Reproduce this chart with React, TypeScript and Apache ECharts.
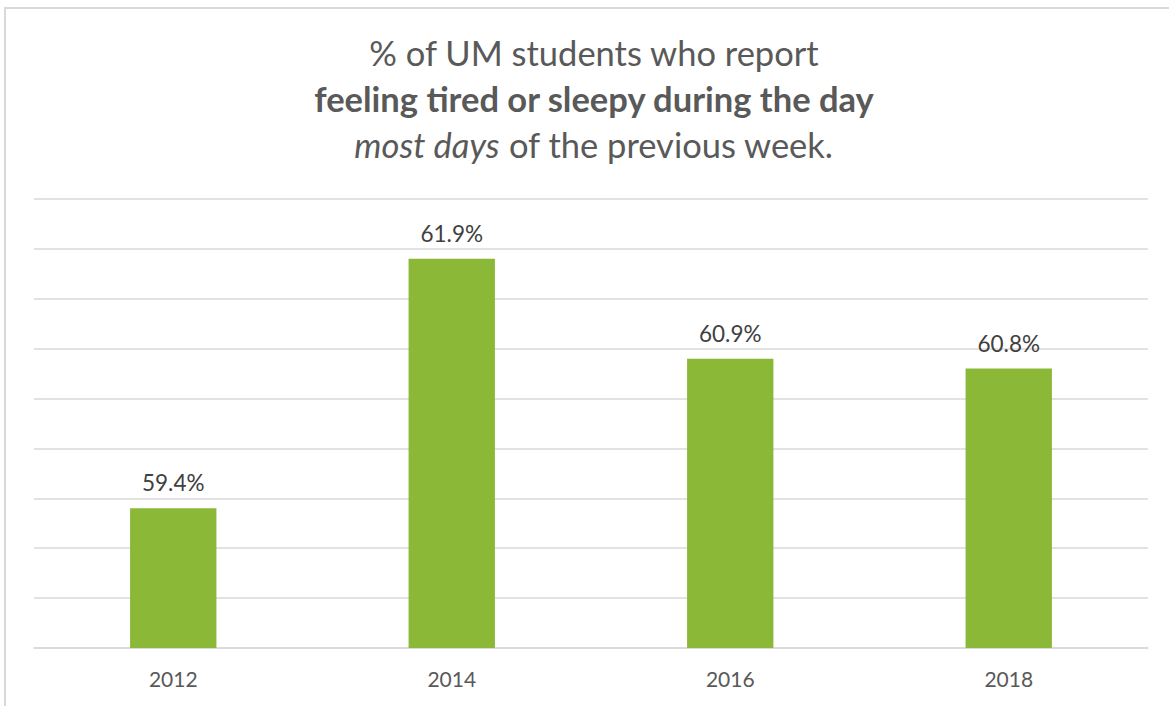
import React, { useEffect, useRef } from "react";
import * as echarts from "echarts";

const categories = ["2012", "2014", "2016", "2018"];
const values = [59.4, 61.9, 60.9, 60.8];
const titleLines = [
  "% of UM students who report",
  "feeling tired or sleepy during the day",
  "most days",
  " of the previous week.",
];

export default function App() {
  const ref = useRef<HTMLDivElement>(null);
  useEffect(() => {
    if (!ref.current) return;
    const chart = echarts.init(ref.current, null, { renderer: "svg" });
    const font = "Lato, 'Open Sans', sans-serif";
    const ts = 34.5;
    const lh = 46;
    chart.setOption({
      animation: false,
      backgroundColor: "#ffffff",
      title: {
        left: 589,
        textAlign: "center",
        top: 24,
        text: `{a|${titleLines[0]}}\n{b|${titleLines[1]}}\n{c|${titleLines[2]}}{d|${titleLines[3]}}`,
        textStyle: {
          fontWeight: "normal",
          rich: {
            a: { fontFamily: font, fontSize: ts, fontWeight: "normal", color: "#595959", lineHeight: lh },
            b: { fontFamily: font, fontSize: ts, fontWeight: "bold", color: "#595959", lineHeight: lh },
            c: { fontFamily: font, fontSize: ts, fontWeight: "normal", fontStyle: "italic", color: "#595959", lineHeight: lh },
            d: { fontFamily: font, fontSize: ts, fontWeight: "normal", color: "#595959", lineHeight: lh },
          },
        },
      },
      graphic: [
        {
          type: "rect",
          shape: { x: 5, y: 8, width: 1300, height: 900 },
          style: { fill: "none", stroke: "#d9d9d9", lineWidth: 2 },
          silent: true,
        },
      ],
      grid: { left: 34, right: 21, top: 199, bottom: 58 },
      xAxis: {
        type: "category",
        data: categories,
        axisLine: { show: true, lineStyle: { color: "#d9d9d9", width: 1.5 } },
        axisTick: { show: false },
        axisLabel: { fontFamily: font, fontSize: 21, color: "#595959", margin: 20 },
      },
      yAxis: {
        type: "value",
        min: 58,
        max: 62.5,
        interval: 0.5,
        axisLabel: { show: false },
        axisLine: { show: false },
        axisTick: { show: false },
        splitLine: { lineStyle: { color: "#d9d9d9", width: 1.5 } },
      },
      series: [
        {
          type: "bar",
          data: values,
          barWidth: "31%",
          itemStyle: { color: "#8BB836" },
          label: {
            show: true,
            position: "top",
            distance: 14,
            formatter: (p: any) => p.value.toFixed(1) + "%",
            fontFamily: font,
            fontSize: 22.5,
            color: "#404040",
          },
        },
      ],
    });
    return () => chart.dispose();
  }, []);
  return (
    <div
      ref={ref}
      style={{ position: "absolute", left: 0, top: 0, width: 1169, height: 706 }}
    />
  );
}
